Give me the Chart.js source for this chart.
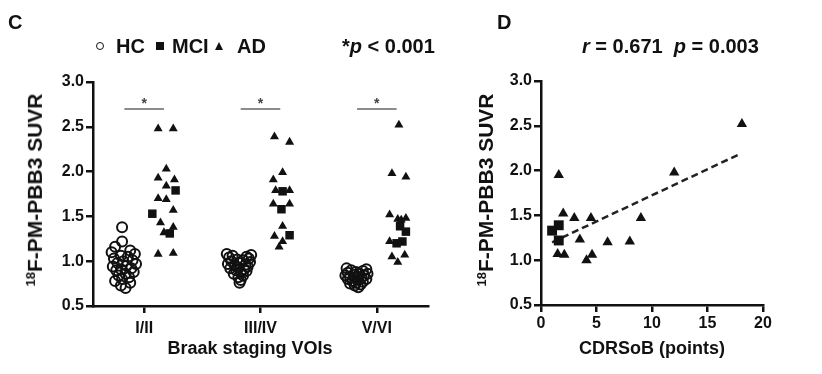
<!DOCTYPE html>
<html>
<head>
<meta charset="utf-8">
<script src="https://cdn.jsdelivr.net/npm/chart.js@4.4.0/dist/chart.umd.min.js"></script>
<style>
  body { margin: 0; background: #fff; }
  #wrap { position: relative; width: 822px; height: 374px; font-family: "Liberation Sans", Arial, sans-serif; font-weight: bold; color: #111; }
  canvas { position: absolute; top: 0; }
  .txt { position: absolute; white-space: nowrap; line-height: 20px; }
  .ytitle { position: absolute; white-space: nowrap; font-size: 21px; transform: translate(-50%, -50%) rotate(-90deg); }
  .ytitle sup { font-size: 0.62em; vertical-align: 0.55em; }
  .sym { position: absolute; }
</style>
</head>
<body>
<div id="wrap">
  <canvas id="braak" width="450" height="374" style="left:0"></canvas>
  <canvas id="cdr" width="372" height="374" style="left:450px"></canvas>

  <div class="txt" style="left:8px;top:12px;font-size:20px">C</div>
  <div class="txt" style="left:497px;top:12px;font-size:20px">D</div>

  <span class="sym" style="left:96px;top:42px;width:6px;height:6px;border:1.5px solid #111;border-radius:50%"></span>
  <div class="txt" style="left:116px;top:36px;font-size:20px">HC</div>
  <span class="sym" style="left:156px;top:42px;width:8px;height:8px;background:#111"></span>
  <div class="txt" style="left:172px;top:36px;font-size:20px">MCI</div>
  <span class="sym" style="left:215px;top:42px;width:0;height:0;border-left:4.5px solid transparent;border-right:4.5px solid transparent;border-bottom:8px solid #111"></span>
  <div class="txt" style="left:237px;top:36px;font-size:20px">AD</div>
  <div class="txt" style="left:342px;top:36px;font-size:20px">*<i>p</i> &lt; 0.001</div>
  <div class="txt" style="left:582px;top:36px;font-size:20px"><i>r</i> = 0.671&nbsp;&nbsp;<i>p</i> = 0.003</div>

  <div class="ytitle" style="left:35px;top:190px"><sup>18</sup>F-PM-PBB3 SUVR</div>
  <div class="ytitle" style="left:486px;top:190px"><sup>18</sup>F-PM-PBB3 SUVR</div>

  <div class="txt" style="left:250px;top:338px;font-size:18px;transform:translateX(-50%)">Braak staging VOIs</div>
  <div class="txt" style="left:652px;top:338px;font-size:18px;transform:translateX(-50%)">CDRSoB (points)</div>
</div>

<script>
// ================= Data: panel C =================
const braakGroups = ["I/II", "III/IV", "V/VI"];
const suvrTicks = [0.5, 1.0, 1.5, 2.0, 2.5, 3.0];

// HC values and jitter per Braak group
const hcI = [1.38, 1.22, 1.16, 1.12, 1.10, 1.08, 1.06, 1.05, 1.03, 1.01, 1.00, 0.98, 0.97, 0.95, 0.94, 0.92, 0.91, 0.90, 0.88, 0.86, 0.84, 0.82, 0.80, 0.78, 0.76, 0.73, 0.70];
const hcIJit = [-0.19, -0.19, -0.25, -0.12, -0.28, -0.08, -0.20, -0.14, -0.26, -0.10, -0.18, -0.23, -0.07, -0.15, -0.27, -0.11, -0.20, -0.24, -0.09, -0.16, -0.22, -0.13, -0.19, -0.25, -0.12, -0.20, -0.16];
const hcIII = [1.08, 1.07, 1.06, 1.05, 1.04, 1.03, 1.02, 1.01, 1.00, 0.99, 0.98, 0.97, 0.96, 0.95, 0.94, 0.93, 0.92, 0.91, 0.90, 0.89, 0.88, 0.86, 0.84, 0.82, 0.79, 0.76];
const hcIIIJit = [-0.29, -0.08, -0.24, -0.12, -0.27, -0.10, -0.20, -0.15, -0.25, -0.09, -0.18, -0.28, -0.13, -0.22, -0.11, -0.19, -0.26, -0.14, -0.21, -0.12, -0.17, -0.23, -0.15, -0.19, -0.17, -0.18];
const hcV = [0.92, 0.91, 0.90, 0.89, 0.88, 0.87, 0.86, 0.86, 0.85, 0.84, 0.84, 0.83, 0.82, 0.82, 0.81, 0.80, 0.80, 0.79, 0.78, 0.77, 0.76, 0.75, 0.74, 0.73, 0.71];
const hcVJit = [-0.26, -0.09, -0.22, -0.12, -0.18, -0.25, -0.08, -0.15, -0.20, -0.27, -0.11, -0.17, -0.23, -0.13, -0.19, -0.09, -0.25, -0.16, -0.21, -0.12, -0.18, -0.23, -0.14, -0.19, -0.16];

// MCI values and jitter
const mciI = [1.79, 1.53, 1.31];
const mciIJit = [0.27, 0.07, 0.22];
const mciIII = [1.78, 1.58, 1.29];
const mciIIIJit = [0.19, 0.18, 0.25];
const mciV = [1.39, 1.33, 1.20, 1.22];
const mciVJit = [0.20, 0.25, 0.17, 0.22];

// AD values and jitter
const adI = [2.48, 2.48, 2.03, 1.93, 1.91, 1.84, 1.70, 1.69, 1.57, 1.43, 1.38, 1.32, 1.08, 1.09];
const adIJit = [0.12, 0.25, 0.19, 0.12, 0.26, 0.19, 0.12, 0.19, 0.25, 0.14, 0.25, 0.17, 0.12, 0.25];
const adIII = [2.39, 2.33, 1.99, 1.91, 1.79, 1.79, 1.64, 1.64, 1.39, 1.28, 1.22, 1.16];
const adIIIJit = [0.12, 0.25, 0.19, 0.11, 0.13, 0.25, 0.11, 0.25, 0.19, 0.12, 0.19, 0.16];
const adV = [2.52, 1.98, 1.94, 1.52, 1.47, 1.48, 1.46, 1.22, 1.05, 1.07, 0.99];
const adVJit = [0.19, 0.13, 0.25, 0.11, 0.18, 0.25, 0.21, 0.11, 0.13, 0.24, 0.18];

const sigLevel = 2.70;

// ================= Data: panel D =================
const cdrTicks = [0, 5, 10, 15, 20];
const mciCdr = [1.0, 1.6, 1.6];
const mciSuvr = [1.33, 1.39, 1.22];
const adCdr = [1.6, 2.0, 3.0, 4.5, 3.5, 1.5, 2.1, 4.1, 4.6, 6.0, 8.0, 9.0, 12.0, 18.1];
const adSuvr = [1.95, 1.52, 1.47, 1.47, 1.23, 1.07, 1.06, 1.00, 1.06, 1.20, 1.21, 1.47, 1.98, 2.52];
const fitCdr = [1, 18];
const fitSuvr = [1.20, 2.19];

// ================= Helpers =================
const INK = "#111";
const FONT = { family: "'Liberation Sans', Arial, sans-serif", weight: "bold", size: 16 };

function groupPoints(lists) {
    const pts = [];
    lists.forEach(([vals, jit], g) => {
        vals.forEach((v, i) => pts.push({ x: g + jit[i], y: v }));
    });
    return pts;
}

function zip(xs, ys) {
    return xs.map((x, i) => ({ x: x, y: ys[i] }));
}

function axisStyle() {
    return {
        border: { display: true, color: INK, width: 2.5 },
        grid: { drawOnChartArea: false, color: INK, lineWidth: 2.5, tickLength: 7 },
        ticks: { color: INK, font: FONT }
    };
}

// star above each significance bar
const starPlugin = {
    id: "stars",
    afterDatasetsDraw(chart) {
        const ctx = chart.ctx;
        const xs = chart.scales.x, ys = chart.scales.y;
        ctx.save();
        ctx.fillStyle = "#444";
        ctx.font = "bold 14px 'Liberation Sans', Arial";
        ctx.textAlign = "center";
        ctx.textBaseline = "middle";
        braakGroups.forEach((g, i) => ctx.fillText("*", xs.getPixelForValue(i), ys.getPixelForValue(sigLevel) - 5));
        ctx.restore();
    }
};

// ================= Panel C =================
const sigSets = braakGroups.map((g, i) => ({
    type: "line",
    data: [{ x: i - 0.17, y: sigLevel }, { x: i + 0.17, y: sigLevel }],
    borderColor: "#666",
    borderWidth: 1.5,
    pointRadius: 0
}));

const yC = axisStyle();
Object.assign(yC, { min: 0.5, max: 3.0, afterFit: s => { s.width = 50; } });
yC.ticks = Object.assign({}, yC.ticks, { padding: 2, callback: v => v.toFixed(1) });
yC.afterBuildTicks = s => { s.ticks = suvrTicks.map(v => ({ value: v })); };

const xC = axisStyle();
Object.assign(xC, { type: "linear", min: -0.44, max: 2.44, afterFit: s => { s.height = 30; } });
xC.ticks = Object.assign({}, xC.ticks, { padding: 6, callback: v => braakGroups[v] });
xC.afterBuildTicks = s => { s.ticks = braakGroups.map((g, i) => ({ value: i })); };

new Chart(document.getElementById("braak"), {
    type: "scatter",
    data: {
        datasets: [
            {
                data: groupPoints([[hcI, hcIJit], [hcIII, hcIIIJit], [hcV, hcVJit]]),
                pointStyle: "circle", pointRadius: 5, borderWidth: 2,
                borderColor: INK, backgroundColor: "rgba(255,255,255,0)"
            },
            {
                data: groupPoints([[adI, adIJit], [adIII, adIIIJit], [adV, adVJit]]),
                pointStyle: "triangle", pointRadius: 5.2, borderWidth: 0,
                borderColor: INK, backgroundColor: INK
            },
            {
                data: groupPoints([[mciI, mciIJit], [mciIII, mciIIIJit], [mciV, mciVJit]]),
                pointStyle: "rect", pointRadius: 6, borderWidth: 0,
                borderColor: INK, backgroundColor: INK
            },
            ...sigSets
        ]
    },
    options: {
        responsive: false,
        animation: false,
        layout: { padding: { left: 43, right: 22, top: 82, bottom: 38 } },
        plugins: { legend: { display: false }, tooltip: { enabled: false } },
        scales: { x: xC, y: yC }
    },
    plugins: [starPlugin]
});

// ================= Panel D =================
const yD = axisStyle();
Object.assign(yD, { min: 0.5, max: 3.0, afterFit: s => { s.width = 50; } });
yD.ticks = Object.assign({}, yD.ticks, { padding: 2, callback: v => v.toFixed(1) });
yD.afterBuildTicks = s => { s.ticks = suvrTicks.map(v => ({ value: v })); };

const xD = axisStyle();
Object.assign(xD, { type: "linear", min: 0, max: 20, afterFit: s => { s.height = 30; } });
xD.ticks = Object.assign({}, xD.ticks, { padding: 2 });
xD.afterBuildTicks = s => { s.ticks = cdrTicks.map(v => ({ value: v })); };

new Chart(document.getElementById("cdr"), {
    type: "scatter",
    data: {
        datasets: [
            {
                data: zip(adCdr, adSuvr),
                pointStyle: "triangle", pointRadius: 6, borderWidth: 0,
                borderColor: INK, backgroundColor: INK
            },
            {
                data: zip(mciCdr, mciSuvr),
                pointStyle: "rect", pointRadius: 7, borderWidth: 0,
                borderColor: INK, backgroundColor: INK
            },
            {
                type: "line",
                data: zip(fitCdr, fitSuvr),
                borderColor: "#222", borderWidth: 2.5, borderDash: [7, 4],
                pointRadius: 0
            }
        ]
    },
    options: {
        responsive: false,
        animation: false,
        layout: { padding: { left: 41, right: 59, top: 81, bottom: 39 } },
        plugins: { legend: { display: false }, tooltip: { enabled: false } },
        scales: { x: xD, y: yD }
    }
});
</script>
</body>
</html>
